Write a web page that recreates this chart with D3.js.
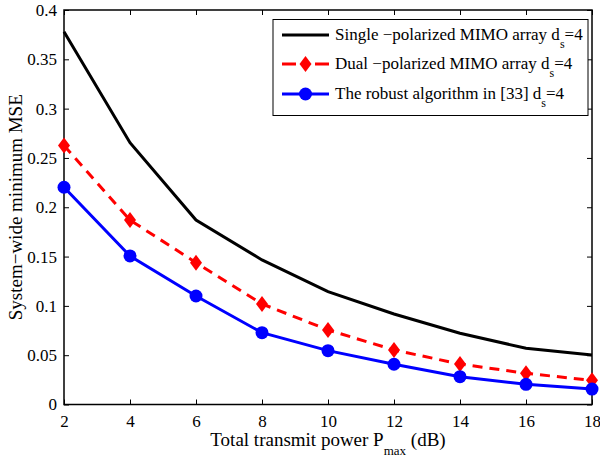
<!DOCTYPE html>
<html>
<head>
<meta charset="utf-8">
<script src="https://cdn.jsdelivr.net/npm/d3@7"></script>
<style>
  body { margin: 0; background: #fff; }
  svg text { font-family: "Liberation Serif", "Times New Roman", serif !important; }
</style>
</head>
<body>
<svg id="chart" width="600" height="460"></svg>
<script>
// transmit power (dB)
var power = [2, 4, 6, 8, 10, 12, 14, 16, 18];

// system-wide minimum MSE per scheme
var singlePol = [0.378, 0.2655, 0.187, 0.1466, 0.1144, 0.0918, 0.0722, 0.057, 0.0502];
var dualPol   = [0.2625, 0.187, 0.1438, 0.102, 0.0756, 0.0553, 0.041, 0.0316, 0.0245];
var robust    = [0.2203, 0.1506, 0.110, 0.0728, 0.0546, 0.0408, 0.0282, 0.0205, 0.0156];

var xTicks = [2, 4, 6, 8, 10, 12, 14, 16, 18];
var yTicks = [0, 0.05, 0.1, 0.15, 0.2, 0.25, 0.3, 0.35, 0.4];

var FONT = "Liberation Serif";
var margin = {left: 64, right: 8, top: 10, bottom: 55};
var W = 600, H = 460;

var svg = d3.select("#chart");

var x = d3.scaleLinear().domain([2, 18]).range([margin.left, W - margin.right]);
var y = d3.scaleLinear().domain([0, 0.4]).range([H - margin.bottom - 0.5, margin.top]);

// axes with inward ticks, like matlab
var g = svg.append("g");

g.append("g")
  .attr("transform", "translate(0," + y(0) + ")")
  .call(d3.axisBottom(x).tickValues(xTicks).tickSize(-5).tickPadding(10).tickFormat(d3.format("d")))
  .call(function(s) { s.select(".domain").remove(); });

g.append("g")
  .attr("transform", "translate(0," + y(0.4) + ")")
  .call(d3.axisTop(x).tickValues(xTicks).tickSize(-5).tickFormat(""))
  .call(function(s) { s.select(".domain").remove(); });

g.append("g")
  .attr("transform", "translate(" + x(2) + ",0)")
  .call(d3.axisLeft(y).tickValues(yTicks).tickSize(-5).tickPadding(7).tickFormat(function(d) { return String(+d.toFixed(2)); }))
  .call(function(s) { s.select(".domain").remove(); });

g.append("g")
  .attr("transform", "translate(" + x(18) + ",0)")
  .call(d3.axisRight(y).tickValues(yTicks).tickSize(-5).tickFormat(""))
  .call(function(s) { s.select(".domain").remove(); });

g.selectAll(".tick line").attr("stroke", "#000").attr("stroke-width", 1);
g.selectAll(".tick text")
  .attr("fill", "#000")
  .attr("font-family", FONT)
  .attr("font-size", 17);

// box
svg.append("rect")
  .attr("x", x(2)).attr("y", y(0.4))
  .attr("width", x(18) - x(2)).attr("height", y(0) - y(0.4))
  .attr("fill", "none").attr("stroke", "#000").attr("stroke-width", 1.5);

// lines
var line = d3.line()
  .x(function(d, i) { return x(power[i]); })
  .y(function(d) { return y(d); });

svg.append("path").datum(singlePol)
  .attr("d", line).attr("fill", "none")
  .attr("stroke", "#000").attr("stroke-width", 3);

svg.append("path").datum(dualPol)
  .attr("d", line).attr("fill", "none")
  .attr("stroke", "#ff0000").attr("stroke-width", 3)
  .attr("stroke-dasharray", "10,7");

svg.append("path").datum(robust)
  .attr("d", line).attr("fill", "none")
  .attr("stroke", "#0000ff").attr("stroke-width", 3);

var diamond = "M0,-8L6,0L0,8L-6,0Z";

svg.selectAll(".dia").data(dualPol).enter().append("path")
  .attr("class", "dia")
  .attr("d", diamond)
  .attr("transform", function(d, i) { return "translate(" + x(power[i]) + "," + y(d) + ")"; })
  .attr("fill", "#ff0000");

svg.selectAll(".dot").data(robust).enter().append("circle")
  .attr("class", "dot")
  .attr("cx", function(d, i) { return x(power[i]); })
  .attr("cy", function(d) { return y(d); })
  .attr("r", 6.5)
  .attr("fill", "#0000ff");

// legend
var leg = svg.append("g");
leg.append("rect")
  .attr("x", 273).attr("y", 19.5).attr("width", 315).attr("height", 96)
  .attr("fill", "#fff").attr("stroke", "#000").attr("stroke-width", 1);

var legItems = [
  {name: "Single \u2212polarized MIMO array d", color: "#000", dash: null, mark: null},
  {name: "Dual \u2212polarized MIMO array d", color: "#ff0000", dash: "14,19,14", mark: "diamond"},
  {name: "The robust algorithm in [33] d", color: "#0000ff", dash: null, mark: "circle"}
];
var legY = [35, 64, 94];

legItems.forEach(function(it, i) {
  var ly = legY[i];
  leg.append("line")
    .attr("x1", 282).attr("x2", 329).attr("y1", ly).attr("y2", ly)
    .attr("stroke", it.color).attr("stroke-width", 3)
    .attr("stroke-dasharray", it.dash);
  if (it.mark == "diamond") {
    leg.append("path").attr("d", diamond)
      .attr("transform", "translate(305.5," + ly + ")").attr("fill", it.color);
  } else if (it.mark == "circle") {
    leg.append("circle").attr("cx", 305.5).attr("cy", ly).attr("r", 6.5).attr("fill", it.color);
  }
  var t = leg.append("text")
    .attr("x", 335).attr("y", ly + 5)
    .attr("font-family", FONT)
    .attr("font-size", 17).attr("fill", "#000");
  t.append("tspan").text(it.name);
  t.append("tspan").attr("dy", 8).attr("font-size", 12).text("s");
  t.append("tspan").attr("dy", -8).text("=4");
});

// axis titles
var xl = svg.append("text")
  .attr("x", 328).attr("y", 446)
  .attr("text-anchor", "middle")
  .attr("font-family", FONT)
  .attr("font-size", 19).attr("fill", "#000");
xl.append("tspan").text("Total transmit power P");
xl.append("tspan").attr("dy", 9).attr("font-size", 13).text("max");
xl.append("tspan").attr("dy", -9).text("\u00a0(dB)");

svg.append("text")
  .attr("transform", "translate(22," + ((y(0) + y(0.4)) / 2) + ") rotate(-90)")
  .attr("text-anchor", "middle")
  .attr("font-family", FONT)
  .attr("font-size", 19).attr("fill", "#000")
  .text("System\u2212wide minimum MSE");
</script>
</body>
</html>
